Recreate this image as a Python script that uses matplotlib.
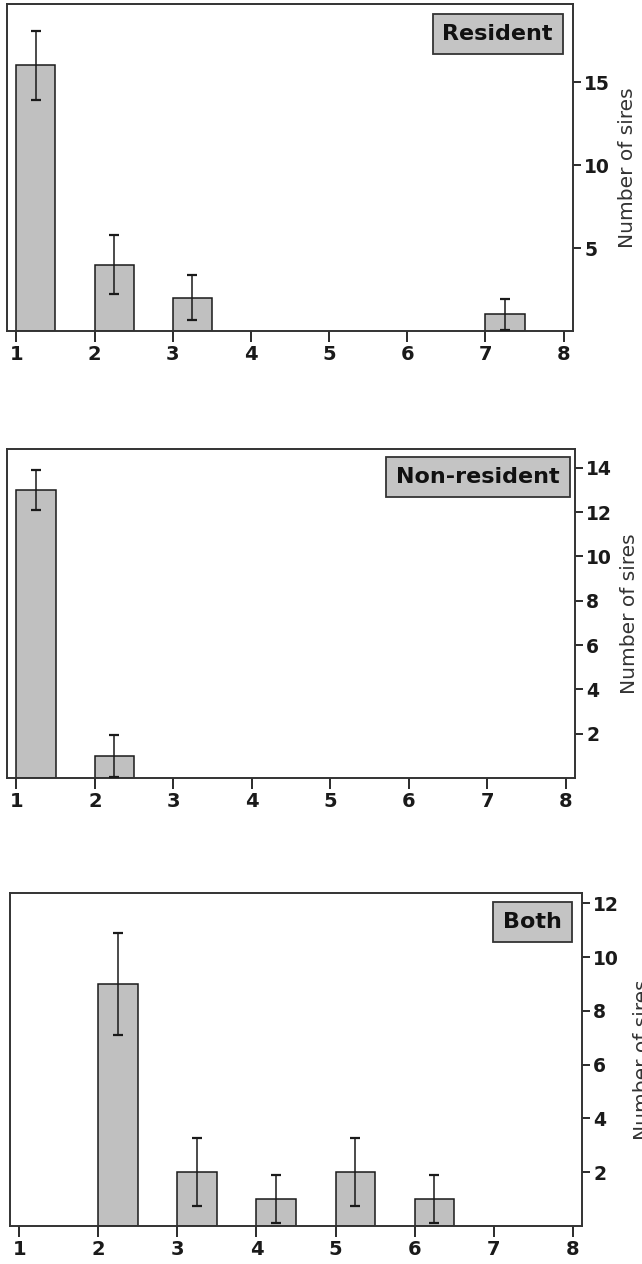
import numpy as np
import matplotlib
matplotlib.use("Agg")
import matplotlib.pyplot as plt

# number of sires per brood, three groups
res_x = [1, 2, 3, 7]
res_n = [16, 4, 2, 1]
res_err = [2.1, 1.8, 1.35, 0.95]

non_x = [1, 2]
non_n = [13, 1]
non_err = [0.9, 0.95]

both_x = [2, 3, 4, 5, 6]
both_n = [9, 2, 1, 2, 1]
both_err = [1.9, 1.27, 0.9, 1.27, 0.9]

labels = ["Resident", "Non-resident", "Both"]
x_ticks = [1, 2, 3, 4, 5, 6, 7, 8]
y_tops = [19.7, 14.85, 12.38]
y_ticks = [[5, 10, 15], [2, 4, 6, 8, 10, 12, 14], [2, 4, 6, 8, 10, 12]]

W, H = 642, 1264
# axes boxes in pixels: left, right, top, bottom
boxes = [(7, 573, 4, 331), (7, 575, 449, 778), (10, 582, 893, 1226)]
# label box inset from the top right corner (points)
insets = [(7.2, 7.2), (3.8, 6.0), (7.4, 6.5)]

plt.rcParams['font.family'] = ['DejaVu Sans']
fig = plt.figure(figsize=(W / 100, H / 100), dpi=100)

data = [(res_x, res_n, res_err), (non_x, non_n, non_err), (both_x, both_n, both_err)]

for i, (xs, ns, errs) in enumerate(data):
    l, r, t, b = boxes[i]
    ax = fig.add_axes([l / W, 1 - b / H, (r - l) / W, (b - t) / H])
    ax.bar(xs, ns, width=0.5, align='edge', color='#c0c0c0',
           edgecolor='#1a1a1a', linewidth=1.1, zorder=2)
    ax.errorbar(np.array(xs) + 0.25, ns, yerr=errs, fmt='none',
                ecolor='#1a1a1a', elinewidth=1.1, capsize=3.5, capthick=1.6, zorder=3)
    ax.set_xlim(0.88, 8.12)
    ax.set_ylim(0, y_tops[i])
    ax.set_xticks(x_ticks)
    ax.set_yticks(y_ticks[i])
    ax.yaxis.tick_right()
    ax.yaxis.set_label_position('right')
    ax.tick_params(axis='x', direction='out', length=8, width=1.3, pad=2,
                   labelsize=14, colors='#1a1a1a')
    ax.tick_params(axis='y', direction='out', length=6, width=1.3, pad=2,
                   labelsize=13.5, colors='#1a1a1a')
    for lab in ax.get_xticklabels() + ax.get_yticklabels():
        lab.set_fontweight('bold')
    for sp in ax.spines.values():
        sp.set_linewidth(1.4)
        sp.set_color('#333333')
    ax.set_ylabel("Number of sires", fontsize=14.5, color='#333333',
                  labelpad=6 if i < 2 else 10)
    pad = 0.45 * 16
    dx, dy = insets[i]
    ax.annotate(labels[i], xy=(1, 1), xycoords='axes fraction',
                xytext=(-(dx + pad), -(dy + pad)), textcoords='offset points',
                ha='right', va='top', fontsize=16, fontweight='bold', color='#111111',
                bbox=dict(boxstyle='square,pad=0.45', facecolor='#c4c4c4',
                          edgecolor='#333333', linewidth=1.3))

fig.savefig("out.png", dpi=100)
